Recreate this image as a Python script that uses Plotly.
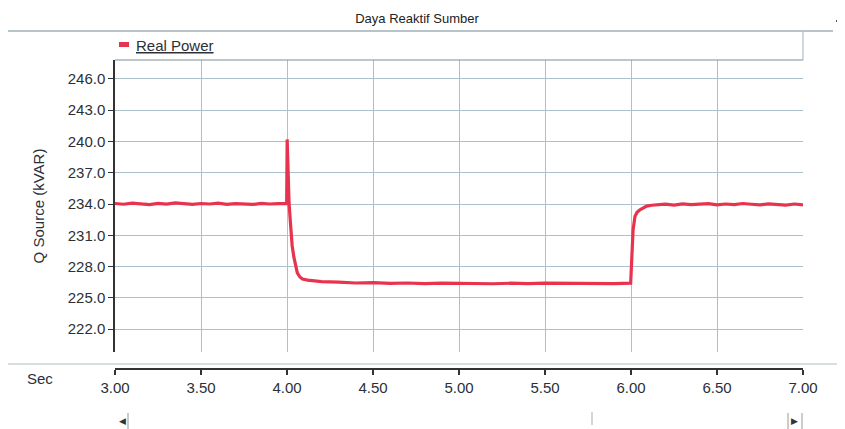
import plotly.graph_objects as go

# ---- data ----
time_s = [3.00, 3.05, 3.10, 3.15, 3.20, 3.25, 3.30, 3.35, 3.40, 3.45, 3.50, 3.55, 3.60, 3.65,
          3.70, 3.75, 3.80, 3.85, 3.90, 3.95, 3.998,
          4.001, 4.004, 4.008, 4.012, 4.020, 4.030, 4.040, 4.050, 4.060, 4.075, 4.090, 4.120,
          4.150, 4.200, 4.300, 4.400, 4.500, 4.600, 4.700, 4.800, 4.900, 5.000, 5.100, 5.200,
          5.300, 5.400, 5.500, 5.600, 5.700, 5.800, 5.900, 5.998,
          6.004, 6.012, 6.023, 6.035, 6.052, 6.070, 6.091, 6.120, 6.169, 6.20, 6.25, 6.30,
          6.35, 6.40, 6.45, 6.50, 6.55, 6.60, 6.65, 6.70, 6.75, 6.80, 6.85, 6.90, 6.95, 7.00]
q_source = [234.05, 233.98, 234.08, 234.02, 233.95, 234.06, 234.00, 234.10, 234.02, 233.96,
            234.05, 234.00, 234.08, 233.97, 234.04, 234.02, 233.96, 234.06, 234.00, 234.04, 234.05,
            240.2, 238.3, 235.5, 234.1, 232.2, 230.0, 228.9, 228.0, 227.4, 227.0, 226.8, 226.7,
            226.65, 226.55, 226.5, 226.42, 226.45, 226.38, 226.42, 226.36, 226.40, 226.38, 226.42,
            226.35, 226.40, 226.36, 226.40, 226.38, 226.35, 226.40, 226.37, 226.40,
            228.5, 231.5, 232.8, 233.2, 233.45, 233.65, 233.8, 233.88, 233.92, 233.98, 233.90,
            234.02, 233.95, 233.98, 234.04, 233.92, 234.00, 233.95, 234.05, 233.98, 233.92,
            234.02, 233.96, 233.90, 234.00, 233.92]

x_ticks = [3.0, 3.5, 4.0, 4.5, 5.0, 5.5, 6.0, 6.5, 7.0]
x_tick_labels = ["3.00", "3.50", "4.00", "4.50", "5.00", "5.50", "6.00", "6.50", "7.00"]
y_ticks = [222, 225, 228, 231, 234, 237, 240, 243, 246]
y_tick_labels = ["222.0", "225.0", "228.0", "231.0", "234.0", "237.0", "240.0", "243.0", "246.0"]

LINE_RED = "#e8334f"
GRID = "#adc0ce"
TEXT = "#2b3038"
FONT = "Arial"

# the page body adds an 8px margin; work in window pixels and shift
OFF = 8
W, H = 845 - OFF, 429 - OFF
L, R, T, B = 115 - OFF, 803 - OFF, 60 - OFF, 369 - OFF
plot_bottom = 352 - OFF
ydom0 = (B - plot_bottom) / (B - T)


def px(x_win):
    return (x_win - OFF - L) / (R - L)


def py(y_win):
    return (B - (y_win - OFF)) / (B - T)


fig = go.Figure()
fig.add_trace(go.Scatter(x=time_s, y=q_source, mode="lines", name="Real Power",
                         line=dict(color=LINE_RED, width=3.2), showlegend=False))

fig.update_layout(
    width=W, height=H,
    margin=dict(l=L, r=W - R, t=T, b=H - B),
    paper_bgcolor="white", plot_bgcolor="white",
    font=dict(family=FONT, color=TEXT),
    title=dict(text="Daya Reaktif Sumber", font=dict(size=13, color="#222"),
               xref="container", x=(417 - OFF) / W, xanchor="center",
               yref="container", y=1 - (18 - OFF) / H, yanchor="middle"),
    xaxis=dict(range=[3.0, 7.0], tickvals=x_ticks, ticktext=x_tick_labels,
               anchor="free", position=0,
               showgrid=True, gridcolor=GRID, gridwidth=1, zeroline=False,
               showline=True, linecolor="#333", linewidth=2,
               ticks="outside", ticklen=5, tickcolor="#333", tickwidth=1.5,
               tickfont=dict(size=15, color=TEXT)),
    yaxis=dict(range=[219.8, 247.82], domain=[ydom0, 1], tickvals=y_ticks, ticktext=y_tick_labels,
               showgrid=True, gridcolor=GRID, gridwidth=1, zeroline=False,
               showline=True, linecolor="#333", linewidth=1.5,
               ticks="outside", ticklen=5, tickcolor="#333",
               tickfont=dict(size=15, color=TEXT),
               title=dict(text="Q Source (kVAR)", font=dict(size=15, color=TEXT), standoff=19)),
    showlegend=False,
)

shapes = [
    # top separator
    dict(type="line", xref="paper", yref="paper", x0=px(0), x1=px(833),
         y0=py(31), y1=py(31), line=dict(color="#9fb0b8", width=1.5)),
    # short dash at top right
    dict(type="line", xref="paper", yref="paper", x0=px(836), x1=px(845),
         y0=py(21), y1=py(21), line=dict(color="#555", width=2)),
    # right frame line going up to the top separator
    dict(type="line", xref="paper", yref="paper", x0=1, x1=1,
         y0=1, y1=py(31), line=dict(color=GRID, width=1.2)),
    # plot area top border
    dict(type="line", xref="paper", yref="paper", x0=0, x1=1, y0=1, y1=1,
         line=dict(color="#7d8d96", width=1.2)),
    # bottom separator
    dict(type="line", xref="paper", yref="paper", x0=px(0), x1=px(845),
         y0=py(364), y1=py(364), line=dict(color="#b4bec4", width=1.2)),
    # legend swatch
    dict(type="rect", xref="paper", yref="paper", x0=px(119), x1=px(129),
         y0=py(47), y1=py(42), fillcolor=LINE_RED, line=dict(width=0)),
    # scrollbar lines
    dict(type="line", xref="paper", yref="paper", x0=px(128), x1=px(128),
         y0=py(413), y1=py(429), line=dict(color="#999", width=1)),
    dict(type="line", xref="paper", yref="paper", x0=px(592), x1=px(592),
         y0=py(412), y1=py(425), line=dict(color="#aaa", width=1)),
    dict(type="line", xref="paper", yref="paper", x0=px(788), x1=px(788),
         y0=py(413), y1=py(429), line=dict(color="#999", width=1)),
    dict(type="line", xref="paper", yref="paper", x0=px(802), x1=px(802),
         y0=py(413), y1=py(429), line=dict(color="#999", width=1)),
]
fig.update_layout(shapes=shapes)

annotations = [
    dict(text="<u>Real Power</u>", xref="paper", yref="paper", x=px(134),
         y=py(45), xanchor="left", yanchor="middle", showarrow=False,
         font=dict(size=15, color=TEXT)),
    dict(text="Sec", xref="paper", yref="paper", x=px(40),
         y=py(378), xanchor="center", yanchor="middle", showarrow=False,
         font=dict(size=15, color=TEXT)),
    dict(text="◀", xref="paper", yref="paper", x=px(122),
         y=py(421), xanchor="center", yanchor="middle", showarrow=False,
         font=dict(size=9, color="#333")),
    dict(text="▶", xref="paper", yref="paper", x=px(794),
         y=py(421), xanchor="center", yanchor="middle", showarrow=False,
         font=dict(size=9, color="#333")),
]
fig.update_layout(annotations=annotations)

fig.write_html("out.html")
